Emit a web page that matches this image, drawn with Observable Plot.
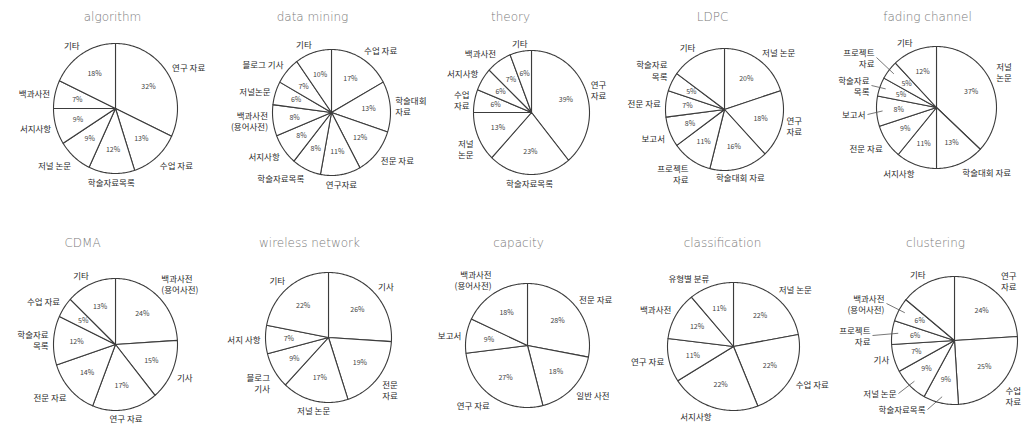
<!DOCTYPE html>
<html>
<head>
<meta charset="utf-8">
<script src="https://cdn.jsdelivr.net/npm/d3@7"></script>
<script src="https://cdn.jsdelivr.net/npm/@observablehq/plot@0.6"></script>
<style>
  body { margin: 0; background: #fff; }
  #chart { position: relative; width: 1033px; height: 430px; overflow: hidden; background: #fff; }
  #chart > div { position: absolute; }
</style>
</head>
<body>
<div id="chart"></div>
<script>
// Keyword titles, one pie per keyword
const titles = ["algorithm", "data mining", "theory", "LDPC", "fading channel",
                "CDMA", "wireless network", "capacity", "classification", "clustering"];

// Share of each information source (%), clockwise from 12 o'clock
const algorithmLabels = ["연구 자료", "수업 자료", "학술자료목록", "저널 논문", "서지사항", "백과사전", "기타"];
const algorithmValues = [32, 13, 12, 9, 9, 7, 18];

const dataMiningLabels = ["수업 자료", "학술대회\n자료", "전문 자료", "연구자료", "학술자료목록", "서지사항", "백과사전\n(용어사전)", "저널논문", "블로그 기사", "기타"];
const dataMiningValues = [17, 13, 12, 11, 8, 8, 8, 6, 7, 10];

const theoryLabels = ["연구\n자료", "학술자료목록", "저널\n논문", "수업\n자료", "서지사항", "백과사전", "기타"];
const theoryValues = [39, 23, 13, 6, 6, 7, 6];

const ldpcLabels = ["저널 논문", "연구\n자료", "학술대회 자료", "프로젝트\n자료", "보고서", "전문 자료", "학술자료\n목록", "기타"];
const ldpcValues = [20, 18, 16, 11, 8, 7, 5, 15];

const fadingLabels = ["저널\n논문", "학술대회 자료", "서지사항", "전문 자료", "보고서", "학술자료\n목록", "프로젝트\n자료", "기타"];
const fadingValues = [37, 13, 11, 9, 8, 5, 5, 12];

const cdmaLabels = ["백과사전\n(용어사전)", "기사", "연구 자료", "전문 자료", "학술자료\n목록", "수업 자료", "기타"];
const cdmaValues = [24, 15, 17, 14, 12, 5, 13];

const wirelessLabels = ["기사", "전문\n자료", "저널 논문", "블로그\n기사", "서지 사항", "기타"];
const wirelessValues = [26, 19, 17, 9, 7, 22];

const capacityLabels = ["전문 자료", "일반 사전", "연구 자료", "보고서", "백과사전\n(용어사전)"];
const capacityValues = [28, 18, 27, 9, 18];

const classificationLabels = ["저널 논문", "수업 자료", "서지사항", "연구 자료", "백과사전", "유형별 분류"];
const classificationValues = [22, 22, 22, 11, 12, 11];

const clusteringLabels = ["연구\n자료", "수업\n자료", "학술자료목록", "저널 논문", "기사", "프로젝트\n자료", "백과사전\n(용어사전)", "기타"];
const clusteringValues = [24, 25, 9, 9, 7, 6, 6, 14];

// Slices whose percentage is not printed inside
const unprinted = [[], [], [], ["기타"], [], [], [], [], [], ["기타"]];

// Page placement of each pie: centre, radii, title centre (px)
const layout = [
  {cx: 115, cy: 108, rx: 62, ry: 65, tx: 112, ty: 17},
  {cx: 331, cy: 112, rx: 59, ry: 63, tx: 312, ty: 17},
  {cx: 531, cy: 112, rx: 58, ry: 62, tx: 510, ty: 17},
  {cx: 724, cy: 109, rx: 59, ry: 61, tx: 712, ty: 17},
  {cx: 936, cy: 107, rx: 60, ry: 61, tx: 927, ty: 17},
  {cx: 115, cy: 344, rx: 62, ry: 66, tx: 82,  ty: 243},
  {cx: 328, cy: 337, rx: 63, ry: 65, tx: 309, ty: 243},
  {cx: 527, cy: 345, rx: 62, ry: 62, tx: 518, ty: 243},
  {cx: 733, cy: 346, rx: 66, ry: 64, tx: 722, ty: 243},
  {cx: 954, cy: 340, rx: 63, ry: 64, tx: 935, ty: 243}
];

// Labels set off to the side with a leader line: offset from centre (px, y down) and anchors
const leaders = {
  4: {
    "프로젝트\n자료": {at: [-62, -50], ta: "end", la: "middle"},
    "학술자료\n목록": {at: [-67, -22], ta: "end", la: "middle"},
    "보고서": {at: [-71, 7], ta: "end", la: "middle"}
  },
  9: {
    "백과사전\n(용어사전)": {at: [-70, -37], ta: "end", la: "middle"},
    "프로젝트\n자료": {at: [-84, -5], ta: "end", la: "middle"},
    "저널 논문": {at: [-58, 53], ta: "end", la: "middle"},
    "학술자료목록": {at: [-29, 69], ta: "end", la: "middle"}
  }
};

const series = [
  [algorithmLabels, algorithmValues],
  [dataMiningLabels, dataMiningValues],
  [theoryLabels, theoryValues],
  [ldpcLabels, ldpcValues],
  [fadingLabels, fadingValues],
  [cdmaLabels, cdmaValues],
  [wirelessLabels, wirelessValues],
  [capacityLabels, capacityValues],
  [classificationLabels, classificationValues],
  [clusteringLabels, clusteringValues]
];

const KR = "'Noto Sans CJK KR', 'Noto Sans', sans-serif";
const W = 260, H = 250, GAP = 5;

function pie(i) {
  const [labels, values] = series[i];
  const L = layout[i];
  const lead = leaders[i] || {};
  const arcs = d3.pie().sort(null).value(d => d)(values);

  // slice outlines in unit-circle coordinates (y up, angle clockwise from top)
  const outline = [];
  arcs.forEach((a, k) => {
    outline.push({k, x: 0, y: 0});
    const n = Math.max(2, Math.ceil((a.endAngle - a.startAngle) / 0.02));
    for (let j = 0; j <= n; j++) {
      const t = a.startAngle + (a.endAngle - a.startAngle) * j / n;
      outline.push({k, x: Math.sin(t), y: Math.cos(t)});
    }
    outline.push({k, x: 0, y: 0});
  });

  const names = [], links = [];
  arcs.forEach((a, k) => {
    const m = (a.startAngle + a.endAngle) / 2, s = Math.sin(m), c = Math.cos(m);
    const o = lead[labels[k]];
    if (o) {
      const x = o.at[0] / L.rx, y = -o.at[1] / L.ry;
      names.push({text: labels[k], x, y, ta: o.ta, la: o.la});
      links.push({x1: x + 2 / L.rx, y1: y, x2: 0.9 * s, y2: 0.9 * c});
    } else {
      names.push({
        text: labels[k],
        x: s * (L.rx + GAP) / L.rx,
        y: c * (L.ry + GAP) / L.ry,
        ta: s > 0.25 ? "start" : s < -0.25 ? "end" : "middle",
        la: c > 0.35 ? "bottom" : c < -0.35 ? "top" : "middle"
      });
    }
  });

  const pcts = arcs.filter((a, k) => !unprinted[i].includes(labels[k])).map(a => {
    const m = (a.startAngle + a.endAngle) / 2;
    return {text: a.data + "%", x: 0.63 * Math.sin(m), y: 0.63 * Math.cos(m)};
  });

  const nameMarks = [];
  for (const ta of ["start", "middle", "end"]) for (const la of ["top", "middle", "bottom"]) {
    const d = names.filter(n => n.ta === ta && n.la === la);
    if (d.length) nameMarks.push(Plot.text(d, {
      x: "x", y: "y", text: "text", textAnchor: ta, lineAnchor: la,
      fontSize: 8.5, lineHeight: 1.3, fill: "#2a2a2a", fontFamily: KR
    }));
  }

  const svg = Plot.plot({
    width: W, height: H, margin: 0,
    x: {domain: [-W / 2 / L.rx, W / 2 / L.rx], axis: null},
    y: {domain: [-H / 2 / L.ry, H / 2 / L.ry], axis: null},
    style: {overflow: "visible", background: "transparent"},
    marks: [
      Plot.line(outline, {x: "x", y: "y", z: "k", fill: "white", stroke: "#3c3c3c", strokeWidth: 1.1, strokeLinejoin: "round"}),
      Plot.link(links, {x1: "x1", y1: "y1", x2: "x2", y2: "y2", stroke: "#555", strokeWidth: 0.8}),
      Plot.text(pcts, {x: "x", y: "y", text: "text", fontSize: 7, fill: "#444", fontFamily: KR}),
      ...nameMarks,
      Plot.text([titles[i]], {
        x: (L.tx - L.cx) / L.rx, y: (L.cy - L.ty) / L.ry, text: d => d,
        fontSize: 12, fontWeight: 300, fill: "#7a7a7a", fontFamily: "'DejaVu Sans', sans-serif"
      })
    ]
  });

  const box = document.createElement("div");
  box.style.left = (L.cx - W / 2) + "px";
  box.style.top = (L.cy - H / 2) + "px";
  box.style.width = W + "px";
  box.style.height = H + "px";
  box.appendChild(svg);
  return box;
}

const chart = document.getElementById("chart");
titles.forEach((_, i) => chart.appendChild(pie(i)));
</script>
</body>
</html>
